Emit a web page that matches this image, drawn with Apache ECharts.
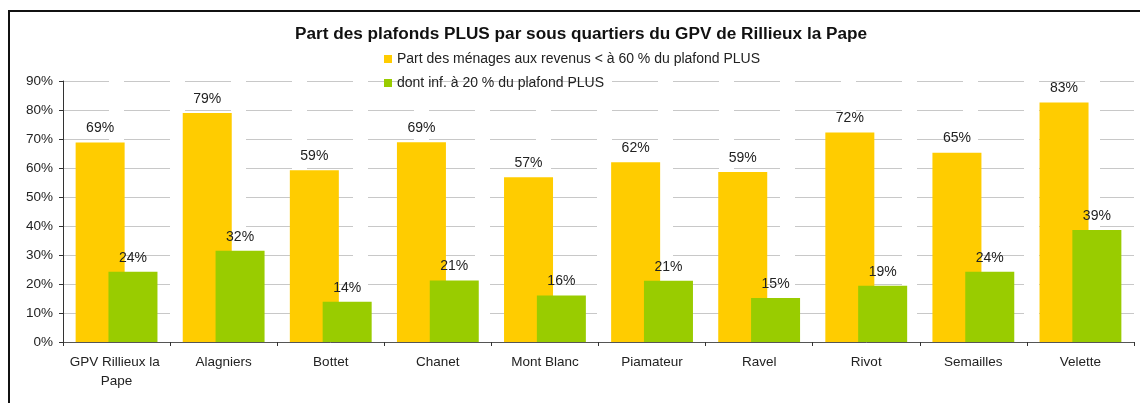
<!DOCTYPE html>
<html>
<head>
<meta charset="utf-8">
<script src="https://cdn.jsdelivr.net/npm/echarts@6/dist/echarts.min.js"></script>
<style>
  html, body { margin: 0; padding: 0; background: #fff; }
  #chart { width: 1140px; height: 403px; }
</style>
</head>
<body>
<div id="chart"></div>
<script>
var quartiers = ['GPV Rillieux la Pape', 'Alagniers', 'Bottet', 'Chanet', 'Mont Blanc',
  'Piamateur', 'Ravel', 'Rivot', 'Semailles', 'Velette'];
// part des ménages aux revenus < 60 % du plafond PLUS
var partMoins60 = [68.8, 79.0, 59.2, 68.9, 56.8, 62.0, 58.6, 72.2, 65.3, 82.6];
// dont inf. à 20 % du plafond PLUS
var dontMoins20 = [24.2, 31.5, 13.9, 21.2, 16.0, 21.1, 15.2, 19.4, 24.2, 38.6];

var chart = echarts.init(document.getElementById('chart'));

var labelStyle = {
  show: true,
  position: 'top',
  distance: 7,
  color: '#222',
  fontFamily: 'Liberation Sans, Arial, sans-serif',
  fontSize: 14,
  formatter: function (p) {
    return Math.round(p.value) + '%';
  }
};

chart.setOption({
  backgroundColor: '#fff',
  animation: false,
  title: {
    text: 'Part des plafonds PLUS par sous quartiers du GPV de Rillieux la Pape',
    left: 290,
    top: 21,
    textStyle: {
      fontFamily: 'Liberation Sans, Arial, sans-serif',
      fontWeight: 'bold',
      fontSize: 17.2,
      color: '#111'
    }
  },
  legend: {
    orient: 'vertical',
    left: 379,
    top: 47,
    itemWidth: 8,
    itemHeight: 8,
    itemGap: 10,
    icon: 'rect',
    textStyle: {
      fontFamily: 'Liberation Sans, Arial, sans-serif',
      fontSize: 14,
      color: '#222'
    },
    data: ['Part des ménages aux revenus < à 60 % du plafond PLUS', 'dont inf. à 20 % du plafond PLUS']
  },
  graphic: [{
    type: 'rect',
    shape: { x: 9, y: 11, width: 1200, height: 500 },
    style: { fill: 'none', stroke: '#111', lineWidth: 2 },
    silent: true
  }],
  grid: { left: 63, right: 6, top: 81, bottom: 61 },
  xAxis: {
    type: 'category',
    data: quartiers,
    axisLine: { lineStyle: { color: '#555', width: 1 } },
    axisTick: { show: true, length: 4, lineStyle: { color: '#333' } },
    axisLabel: {
      color: '#222',
      fontFamily: 'Liberation Sans, Arial, sans-serif',
      fontSize: 13.5,
      margin: 11,
      lineHeight: 19,
      width: 105,
      overflow: 'break',
      interval: 0
    }
  },
  yAxis: {
    type: 'value',
    min: 0,
    max: 90,
    interval: 10,
    axisLine: { show: true, lineStyle: { color: '#333', width: 1 } },
    axisTick: { show: true, length: 4, lineStyle: { color: '#333' } },
    axisLabel: {
      color: '#222',
      fontFamily: 'Liberation Sans, Arial, sans-serif',
      fontSize: 13.5,
      margin: 10,
      formatter: '{value}%'
    },
    splitLine: {
      show: true,
      lineStyle: { color: '#c8c8c8', width: 1, type: [46, 15] }
    }
  },
  series: [
    {
      name: 'Part des ménages aux revenus < à 60 % du plafond PLUS',
      type: 'bar',
      data: partMoins60,
      barWidth: 49,
      barGap: '-33%',
      itemStyle: { color: '#FFCC00' },
      label: labelStyle
    },
    {
      name: 'dont inf. à 20 % du plafond PLUS',
      type: 'bar',
      data: dontMoins20,
      barWidth: 49,
      itemStyle: { color: '#99CC00' },
      label: labelStyle
    }
  ]
});
</script>
</body>
</html>
